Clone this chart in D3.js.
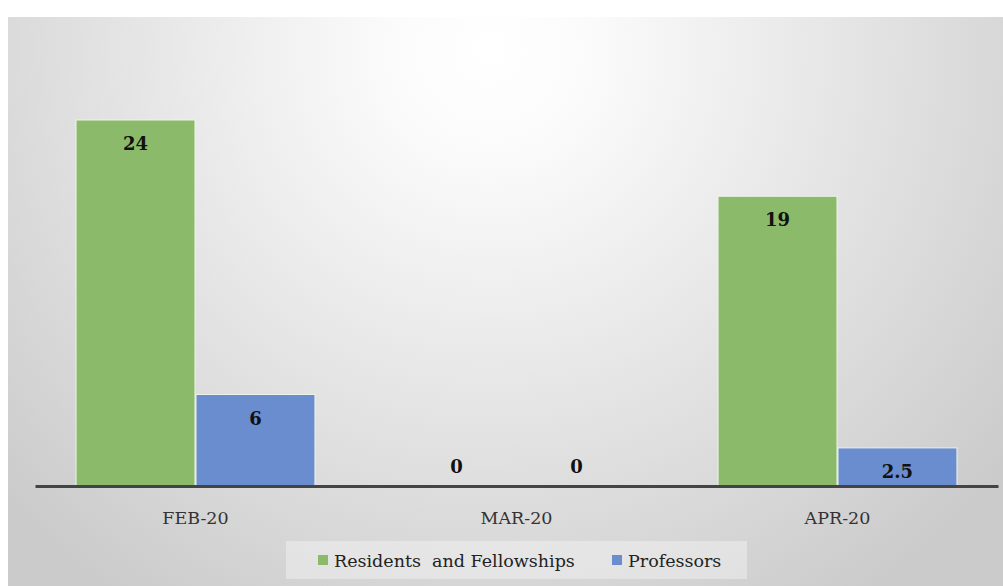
<!DOCTYPE html>
<html lang="en">
<head>
  <meta charset="UTF-8">
  <title>Chart</title>
  <style>
    html, body { margin: 0; padding: 0; background: #fff; }
    svg { display: block; }
    text { font-family: "DejaVu Serif", "Liberation Serif", serif; }
  </style>
</head>
<body>
  <div id="chart"></div>
  <script src="https://cdn.jsdelivr.net/npm/d3@7"></script>
  <script>
    const categories = ['FEB-20', 'MAR-20', 'APR-20'];
    const seriesNames = ['Residents  and Fellowships', 'Professors'];
    const residents = [24, 0, 19];
    const professors = [6, 0, 2.5];
    const colors = ['#8BBB6A', '#6A8DCF'];

    const width = 1003, height = 586;
    const svg = d3.select('#chart').append('svg')
      .attr('width', width)
      .attr('height', height);

    // background panel with soft radial shading
    const defs = svg.append('defs');
    const grad = defs.append('radialGradient')
      .attr('id', 'bg')
      .attr('gradientUnits', 'userSpaceOnUse')
      .attr('cx', 490).attr('cy', 50).attr('r', 660);
    grad.append('stop').attr('offset', '0%').attr('stop-color', '#ffffff');
    grad.append('stop').attr('offset', '15%').attr('stop-color', '#fbfbfb');
    grad.append('stop').attr('offset', '100%').attr('stop-color', '#cbcbcb');

    svg.append('rect')
      .attr('x', 8).attr('y', 17)
      .attr('width', width - 8).attr('height', height - 17)
      .attr('fill', 'url(#bg)');

    const margin = { left: 35, right: 5, baseline: 486 };
    const x = d3.scaleBand()
      .domain(categories)
      .range([margin.left, width - margin.right])
      .paddingInner(0.2526)
      .paddingOuter(0.1263);
    const xs = d3.scaleBand()
      .domain(seriesNames)
      .range([0, x.bandwidth()]);
    const y = d3.scaleLinear()
      .domain([0, 24])
      .range([margin.baseline, 120]);

    const rows = categories.map((c, i) => ({ cat: c, vals: [residents[i], professors[i]] }));

    const groups = svg.append('g').selectAll('g')
      .data(rows)
      .join('g')
      .attr('transform', d => `translate(${x(d.cat)},0)`);

    groups.selectAll('rect')
      .data(d => d.vals.map((v, j) => ({ v, j })))
      .join('rect')
      .attr('x', d => xs(seriesNames[d.j]) + 0.5)
      .attr('y', d => y(d.v))
      .attr('width', xs.bandwidth() - 1)
      .attr('height', d => y(0) - y(d.v))
      .attr('fill', d => colors[d.j])
      .attr('stroke', d => d.v > 0 ? '#eef3ea' : 'none')
      .attr('stroke-width', 1);

    groups.selectAll('text')
      .data(d => d.vals.map((v, j) => ({ v, j })))
      .join('text')
      .attr('x', d => xs(seriesNames[d.j]) + xs.bandwidth() / 2)
      .attr('y', d => d.v > 0 ? y(d.v) + 30 : y(0) - 13)
      .attr('text-anchor', 'middle')
      .style('font-size', '18px')
      .style('font-weight', 'bold')
      .attr('fill', '#111')
      .text(d => d.v);

    // axis
    const xAxis = svg.append('g')
      .attr('transform', `translate(0,${margin.baseline})`)
      .call(d3.axisBottom(x).tickSize(0).tickPadding(26));
    xAxis.select('.domain')
      .attr('stroke', '#444')
      .attr('stroke-width', 3);
    xAxis.selectAll('text')
      .style('font-size', '17.5px')
      .style('font-family', '"DejaVu Serif", serif')
      .attr('fill', '#333');

    // legend
    const legend = svg.append('g');
    legend.append('rect')
      .attr('x', 286).attr('y', 541)
      .attr('width', 461).attr('height', 38)
      .attr('fill', '#ffffff').attr('fill-opacity', 0.35);
    const legendX = [318, 612];
    seriesNames.forEach((name, i) => {
      legend.append('rect')
        .attr('x', legendX[i]).attr('y', 555)
        .attr('width', 10).attr('height', 10)
        .attr('fill', colors[i]);
      legend.append('text')
        .attr('x', legendX[i] + 16).attr('y', 567)
        .style('font-size', '17.5px')
        .style('white-space', 'pre')
        .attr('fill', '#222')
        .text(name);
    });
  </script>
</body>
</html>
